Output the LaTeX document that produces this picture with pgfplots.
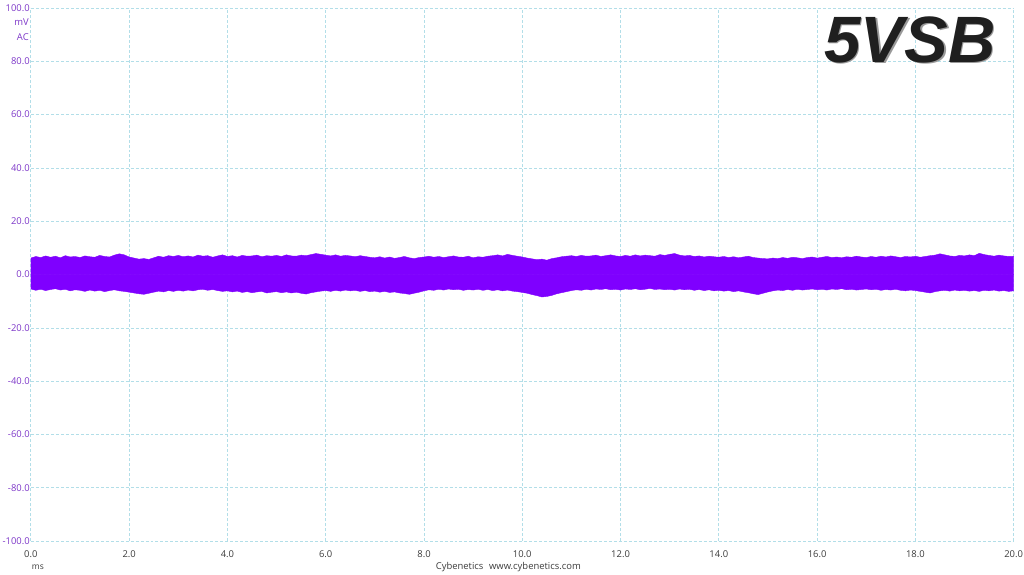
\documentclass[border=0pt]{standalone}
\usepackage{fontspec}
\setmainfont{Open Sans}
\newfontfamily\titlefont{Liberation Sans}
\usepackage{pgfplots}
\usepackage{pgfplotstable}
\pgfplotsset{compat=1.18}

\definecolor{wave}{RGB}{127,0,255}
\definecolor{ylab}{RGB}{125,55,200}
\definecolor{xlab}{RGB}{60,60,60}
\definecolor{gridc}{RGB}{178,222,232}

% ripple envelope, mV: x (ms), upper edge, lower edge
\pgfplotstableread{
t up lo
0.0 6.2 -5.4
0.1 6.8 -5.9
0.2 6.4 -5.5
0.3 7.0 -6.0
0.4 6.5 -5.6
0.5 6.9 -5.3
0.6 6.3 -5.8
0.7 7.1 -5.5
0.8 6.6 -6.1
0.9 6.8 -5.7
1.0 6.4 -5.9
1.1 7.0 -6.3
1.2 6.7 -5.8
1.3 6.5 -6.2
1.4 7.2 -5.9
1.5 6.8 -6.4
1.6 6.6 -6.0
1.7 7.3 -5.7
1.8 7.8 -6.1
1.9 7.4 -6.3
2.0 6.6 -6.6
2.1 6.2 -6.9
2.2 5.8 -7.2
2.3 6.0 -7.4
2.4 5.7 -7.0
2.5 6.3 -6.6
2.6 6.9 -6.2
2.7 6.5 -6.5
2.8 7.1 -6.0
2.9 6.8 -6.3
3.0 7.2 -5.9
3.1 6.7 -6.2
3.2 7.0 -5.8
3.3 6.6 -6.1
3.4 7.3 -5.7
3.5 6.9 -5.5
3.6 7.1 -5.9
3.7 6.5 -5.6
3.8 7.0 -6.0
3.9 7.4 -6.3
4.0 6.8 -6.1
4.1 7.1 -6.5
4.2 6.6 -6.2
4.3 7.2 -6.7
4.4 6.9 -6.4
4.5 7.0 -6.8
4.6 7.3 -6.5
4.7 6.7 -6.3
4.8 7.1 -6.9
4.9 6.9 -6.6
5.0 7.2 -6.4
5.1 6.8 -6.8
5.2 7.4 -6.5
5.3 7.0 -6.9
5.4 6.9 -6.6
5.5 7.3 -7.0
5.6 7.1 -7.3
5.7 7.5 -6.8
5.8 7.9 -6.5
5.9 7.6 -6.2
6.0 7.3 -6.0
6.1 7.0 -6.3
6.2 7.4 -5.9
6.3 6.9 -6.2
6.4 7.2 -5.8
6.5 7.0 -6.1
6.6 6.7 -5.9
6.7 7.1 -6.3
6.8 6.8 -6.0
6.9 6.5 -6.4
7.0 6.3 -6.2
7.1 6.7 -6.6
7.2 6.2 -6.3
7.3 6.6 -6.7
7.4 6.1 -6.5
7.5 6.4 -6.9
7.6 6.8 -7.1
7.7 6.3 -7.4
7.8 6.0 -7.0
7.9 6.4 -6.6
8.0 6.6 -6.1
8.1 6.9 -5.7
8.2 6.5 -5.9
8.3 6.8 -5.5
8.4 6.4 -5.8
8.5 6.7 -5.4
8.6 7.0 -5.7
8.7 6.6 -5.5
8.8 6.5 -5.9
8.9 6.9 -5.6
9.0 6.3 -5.8
9.1 6.7 -5.5
9.2 6.5 -5.9
9.3 6.9 -5.6
9.4 7.1 -6.0
9.5 7.4 -5.7
9.6 7.0 -6.1
9.7 7.6 -5.8
9.8 7.2 -6.2
9.9 6.9 -6.4
10.0 6.6 -6.7
10.1 6.2 -7.0
10.2 5.9 -7.5
10.3 5.6 -7.9
10.4 5.8 -8.4
10.5 5.4 -8.2
10.6 6.0 -7.8
10.7 6.3 -7.2
10.8 6.7 -6.8
10.9 6.9 -6.4
11.0 7.1 -6.0
11.1 6.8 -5.7
11.2 7.2 -5.9
11.3 6.9 -5.5
11.4 7.0 -5.8
11.5 7.3 -5.4
11.6 6.8 -5.6
11.7 7.1 -5.3
11.8 7.4 -5.7
11.9 7.0 -5.5
12.0 6.8 -5.8
12.1 7.2 -5.4
12.2 6.9 -5.6
12.3 7.4 -5.3
12.4 7.0 -5.7
12.5 7.3 -5.5
12.6 7.1 -5.2
12.7 6.9 -5.6
12.8 7.5 -5.4
12.9 7.2 -5.7
13.0 7.6 -5.5
13.1 7.9 -5.8
13.2 7.3 -5.4
13.3 7.0 -5.7
13.4 7.2 -5.5
13.5 6.8 -5.9
13.6 7.0 -5.6
13.7 6.6 -6.0
13.8 6.9 -5.7
13.9 6.7 -6.1
14.0 6.5 -5.9
14.1 6.8 -6.2
14.2 6.4 -6.0
14.3 6.7 -6.4
14.4 6.3 -6.1
14.5 6.6 -6.5
14.6 6.9 -6.8
14.7 6.4 -7.2
14.8 6.2 -7.5
14.9 6.0 -7.0
15.0 5.9 -6.5
15.1 6.2 -6.1
15.2 6.0 -5.8
15.3 6.4 -6.0
15.4 6.1 -5.6
15.5 6.5 -5.9
15.6 6.3 -5.5
15.7 6.0 -5.8
15.8 6.4 -5.6
15.9 6.6 -5.4
16.0 6.2 -5.7
16.1 6.5 -5.5
16.2 6.8 -5.8
16.3 6.4 -5.4
16.4 6.6 -5.6
16.5 6.3 -5.3
16.6 6.7 -5.7
16.7 6.5 -5.5
16.8 6.9 -5.8
16.9 6.6 -5.6
17.0 6.4 -5.4
17.1 6.8 -5.7
17.2 6.5 -5.5
17.3 6.9 -5.9
17.4 6.6 -5.6
17.5 7.0 -5.8
17.6 6.7 -5.5
17.7 6.4 -5.9
17.8 6.8 -6.1
17.9 6.6 -5.8
18.0 6.9 -6.0
18.1 6.5 -6.3
18.2 6.8 -6.6
18.3 7.1 -6.9
18.4 7.3 -6.4
18.5 7.8 -6.1
18.6 7.4 -5.9
18.7 7.0 -6.2
18.8 6.8 -5.8
18.9 7.2 -6.1
19.0 7.0 -5.9
19.1 7.4 -6.2
19.2 7.1 -6.0
19.3 8.0 -6.3
19.4 7.5 -5.9
19.5 7.2 -6.1
19.6 6.9 -5.8
19.7 7.3 -6.2
19.8 7.0 -6.0
19.9 6.8 -6.3
20.0 6.9 -6.1
}\ripple

\begin{document}
\begin{tikzpicture}
\begin{axis}[
  at={(0,0)}, anchor=south west,
  scale only axis, width=986bp, height=535bp,
  xmin=0, xmax=20, ymin=-100, ymax=100,
  xtick={0,2,...,20}, ytick={-100,-80,...,100},
  axis line style={draw=none},
  major tick length=0pt,
  grid=major,
  grid style={gridc, dash pattern=on 3bp off 2bp, line width=0.8bp},
  xticklabel style={font=\fontsize{9.5}{11}\selectfont, text=xlab, inner sep=1bp, yshift=-8bp},
  yticklabel style={font=\fontsize{9.5}{11}\selectfont, text=ylab, inner sep=1bp},
  /pgf/number format/fixed, /pgf/number format/fixed zerofill,
  /pgf/number format/precision=1,
  /pgf/number format/assume math mode=true,
]
\addplot[fill=wave, draw=wave, line width=0.4pt] table[x=t, y=up] {\ripple} \closedcycle;
\addplot[fill=wave, draw=wave, line width=0.4pt] table[x=t, y=lo] {\ripple} \closedcycle;
\end{axis}
\node[anchor=east, inner sep=0, text=ylab, font=\fontsize{9.5}{11}\selectfont] at (-2bp,521bp) {mV};
\node[anchor=east, inner sep=0, text=ylab, font=\fontsize{9.5}{11}\selectfont] at (-2bp,506bp) {AC};
\node[inner sep=0, text=xlab, font=\fontsize{8.5}{10}\selectfont] at (7bp,-26bp) {ms};
\node[inner sep=0, text=xlab, font=\fontsize{9.5}{11}\selectfont] at (479bp,-26bp) {Cybenetics\hspace{0.6em}www.cybenetics.com};
\node[inner sep=0, text=black!40, font=\titlefont\bfseries\itshape\fontsize{66}{66}\selectfont] at (883.5bp,501.5bp) {5VSB};
\node[inner sep=0, text=black!88, font=\titlefont\bfseries\itshape\fontsize{66}{66}\selectfont] at (882bp,503bp) {5VSB};
\useasboundingbox (-31bp,-33bp) rectangle (993bp,543bp);
\end{tikzpicture}
\end{document}
